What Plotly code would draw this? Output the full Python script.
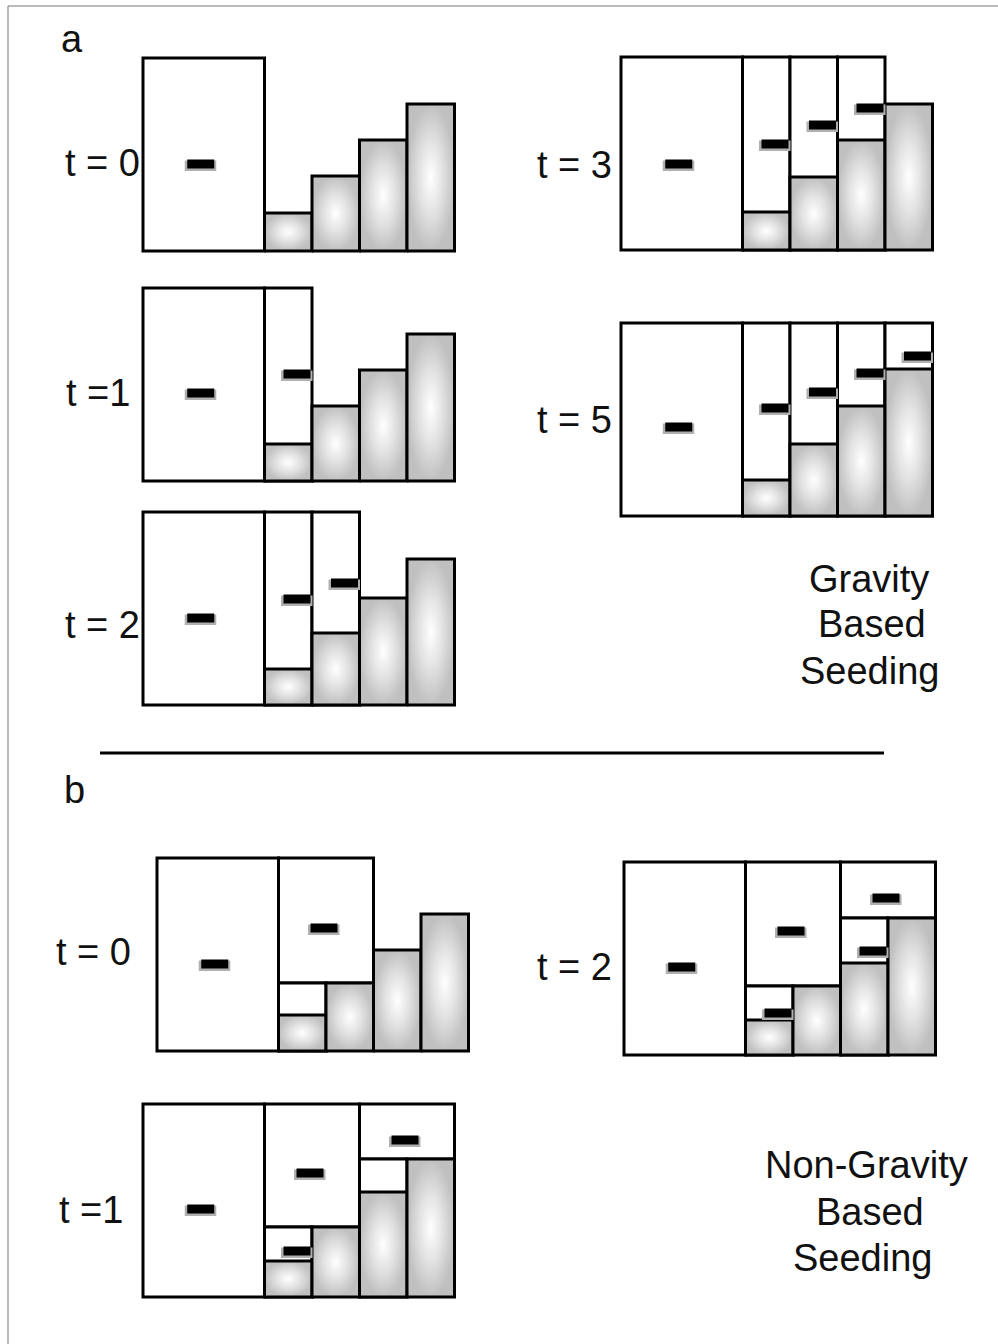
import plotly.graph_objects as go

# ---------------- data (heights measured from the bottom of each frame) ----------------
A_T0_BARS = [38, 75, 111, 147]
A_T1_BARS = [37, 75, 111, 147]
A_T2_BARS = [36, 72, 107, 146]
A_T3_BARS = [38, 73, 110, 146]
A_T5_BARS = [36, 72, 110, 147]
B_T0_BARS = [36, 68, 101, 137]
B_T1_BARS = [36, 70, 105, 138]
B_T2_BARS = [35, 69, 92, 137]

# gravity seeding: columns opened up to the top of the frame
A_T0_OPEN = []
A_T1_OPEN = [1]
A_T2_OPEN = [1, 2]
A_T3_OPEN = [1, 2, 3]
A_T5_OPEN = [1, 2, 3, 4]
# non-gravity seeding: blocks spanning two columns
B_T0_BLOCKS = [(1, 2)]
B_T1_BLOCKS = [(1, 2), (3, 4)]
B_T2_BLOCKS = [(1, 2), (3, 4)]

# seeds: (where, height) ; where = 0 -> big box, int -> column, tuple -> block
A_T0_SEEDS = [(0, 87)]
A_T1_SEEDS = [(0, 88), (1, 107)]
A_T2_SEEDS = [(0, 87), (1, 106), (2, 122)]
A_T3_SEEDS = [(0, 86), (1, 106), (2, 125), (3, 142)]
A_T5_SEEDS = [(0, 89), (1, 108), (2, 124), (3, 143), (4, 160)]
B_T0_SEEDS = [(0, 87), ((1, 2), 123)]
B_T1_SEEDS = [(0, 88), ((1, 2), 124), (1, 46), ((3, 4), 157)]
B_T2_SEEDS = [(0, 88), ((1, 2), 124), (1, 42), ((3, 4), 157), (3, 104)]

TIME_LABELS = ["t = 0", "t =1", "t = 2", "t = 3", "t = 5", "t = 0", "t =1", "t = 2"]
SECTION_LABELS = ["a", "b"]
CAPTION_A = ["Gravity", "Based", "Seeding"]
CAPTION_B = ["Non-Gravity", "Based", "Seeding"]

# ---------------- layout constants ----------------
FIG_W, FIG_H = 998, 1344
FRAME_H = 193
FRAME_W = 311.5
BIG_W = 121.5
COL_W = (FRAME_W - BIG_W) / 4
PAD = 10
LW = 3
SEED_W, SEED_H = 27, 9
FONT = "Liberation Sans, Arial, sans-serif"
FS = 38

# frame left / bottom in page pixels, label centres in page pixels
ORIGINS = [(143, 251), (143, 481), (143, 705), (621, 250), (621, 516),
           (157, 1051), (143, 1297), (624, 1055)]
LABEL_POS = [(102, 163), (98, 393), (102, 625), (574, 165), (574, 420),
             (93, 952), (91, 1210), (574, 967)]

BARS = [A_T0_BARS, A_T1_BARS, A_T2_BARS, A_T3_BARS, A_T5_BARS, B_T0_BARS, B_T1_BARS, B_T2_BARS]
OPEN = [A_T0_OPEN, A_T1_OPEN, A_T2_OPEN, A_T3_OPEN, A_T5_OPEN, [], [], []]
BLOCKS = [[], [], [], [], [], B_T0_BLOCKS, B_T1_BLOCKS, B_T2_BLOCKS]
SEEDS = [A_T0_SEEDS, A_T1_SEEDS, A_T2_SEEDS, A_T3_SEEDS, A_T5_SEEDS, B_T0_SEEDS, B_T1_SEEDS, B_T2_SEEDS]

GRAD = [[0.0, "#ffffff"], [0.5, "#e2e2e2"], [1.0, "#c0c0c0"]]


def col_x(c):
    x0 = BIG_W + (c - 1) * COL_W
    return x0, x0 + COL_W


def P(px, py):
    return px / FIG_W, 1 - py / FIG_H


fig = go.Figure()
layout = dict(width=FIG_W, height=FIG_H, margin=dict(l=0, r=0, t=0, b=0),
              paper_bgcolor="white", plot_bgcolor="rgba(0,0,0,0)",
              showlegend=False, shapes=[], annotations=[])

for i in range(len(BARS)):
    k = i + 1
    xn = "x" if k == 1 else f"x{k}"
    yn = "y" if k == 1 else f"y{k}"
    L, B = ORIGINS[i]
    layout["xaxis" if k == 1 else f"xaxis{k}"] = dict(
        domain=[(L - PAD) / FIG_W, (L + FRAME_W + PAD) / FIG_W],
        range=[-PAD, FRAME_W + PAD], visible=False, fixedrange=True, anchor=yn)
    layout["yaxis" if k == 1 else f"yaxis{k}"] = dict(
        domain=[1 - (B + PAD) / FIG_H, 1 - (B - FRAME_H - PAD) / FIG_H],
        range=[-PAD, FRAME_H + PAD], visible=False, fixedrange=True, anchor=xn)

    box = dict(type="rect", xref=xn, yref=yn, fillcolor="white",
               line=dict(color="black", width=LW), layer="below")
    layout["shapes"].append(dict(box, x0=0, x1=BIG_W, y0=0, y1=FRAME_H))
    for c in OPEN[i]:
        x0, x1 = col_x(c)
        layout["shapes"].append(dict(box, x0=x0, x1=x1, y0=0, y1=FRAME_H))
    for (c0, c1) in BLOCKS[i]:
        x0, _ = col_x(c0)
        _, x1 = col_x(c1)
        yb = BARS[i][c1 - 1]
        layout["shapes"].append(dict(box, x0=x0, x1=x1, y0=yb, y1=FRAME_H))
        sx0, sx1 = col_x(c0)
        layout["shapes"].append(dict(box, x0=sx0, x1=sx1, y0=0, y1=yb))

    for c, h in enumerate(BARS[i], start=1):
        x0, x1 = col_x(c)
        fig.add_trace(go.Scatter(
            x=[x0, x1, x1, x0, x0], y=[0, 0, h, h, 0], mode="lines",
            fill="toself", fillgradient=dict(type="radial", colorscale=GRAD),
            line=dict(color="black", width=LW), hoverinfo="skip",
            xaxis=xn, yaxis=yn))

    for where, h in SEEDS[i]:
        if where == 0:
            cx = BIG_W / 2 - 3
            sx0, sx1 = cx - SEED_W / 2, cx + SEED_W / 2
        elif isinstance(where, tuple):
            x0, _ = col_x(where[0])
            _, x1 = col_x(where[1])
            cx = (x0 + x1) / 2 - 2
            sx0, sx1 = cx - SEED_W / 2, cx + SEED_W / 2
        else:
            _, x1 = col_x(where)
            sx1 = x1 - LW / 2
            sx0 = sx1 - SEED_W
        sy0, sy1 = h - SEED_H / 2, h + SEED_H / 2
        layout["shapes"].append(dict(type="rect", xref=xn, yref=yn, layer="above",
                                     x0=sx0 - 2.5, x1=sx1 + 2, y0=sy0 - 2.5, y1=sy1 - 1,
                                     fillcolor="#b0b0b0", line=dict(width=0)))
        layout["shapes"].append(dict(type="rect", xref=xn, yref=yn, layer="above",
                                     x0=sx0, x1=sx1, y0=sy0, y1=sy1,
                                     fillcolor="black", line=dict(width=0)))

    lx, ly = P(*LABEL_POS[i])
    layout["annotations"].append(dict(
        text=TIME_LABELS[i], xref="paper", yref="paper", x=lx, y=ly, showarrow=False,
        xanchor="center", yanchor="middle", font=dict(family=FONT, size=FS, color="#111")))

for txt, (px, py) in zip(SECTION_LABELS, [(72, 39), (74, 790)]):
    x, y = P(px, py)
    layout["annotations"].append(dict(text=txt, xref="paper", yref="paper", x=x, y=y,
                                      showarrow=False, xanchor="center", yanchor="middle",
                                      font=dict(family=FONT, size=FS, color="#111")))

for lines, pos in [(CAPTION_A, [(869, 579), (872, 624), (869, 671)]),
                   (CAPTION_B, [(866, 1165), (870, 1212), (862, 1258)])]:
    for txt, (px, py) in zip(lines, pos):
        x, y = P(px, py)
        layout["annotations"].append(dict(text=txt, xref="paper", yref="paper", x=x, y=y,
                                          showarrow=False, xanchor="center", yanchor="middle",
                                          font=dict(family=FONT, size=FS, color="#111")))

x0, y0 = P(100, 753)
x1, _ = P(884, 753)
layout["shapes"].append(dict(type="line", xref="paper", yref="paper", x0=x0, x1=x1,
                             y0=y0, y1=y0, line=dict(color="black", width=3)))
bx0, by0 = P(8, 6)
layout["shapes"].append(dict(type="line", xref="paper", yref="paper", x0=bx0, x1=1,
                             y0=by0, y1=by0, line=dict(color="#777", width=1)))
layout["shapes"].append(dict(type="line", xref="paper", yref="paper", x0=bx0, x1=bx0,
                             y0=by0, y1=0, line=dict(color="#777", width=1)))

fig.update_layout(**layout)
fig.write_html("out.html")
